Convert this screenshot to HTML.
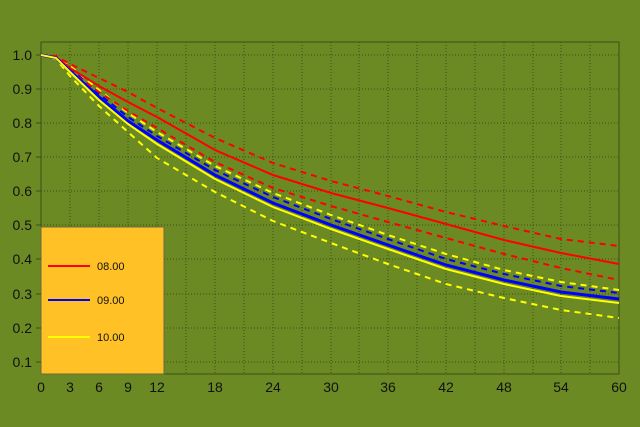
<!DOCTYPE html><html><head><style>body{margin:0;background:#6b8a23}svg{display:block}text{font-family:"Liberation Sans",sans-serif;fill:#111}</style></head><body>
<svg width="640" height="427" xmlns="http://www.w3.org/2000/svg">
<rect width="640" height="427" fill="#6b8a23"/>
<g stroke="#3f4f18" stroke-width="1" stroke-dasharray="1,2">
<line x1="41" x2="619" y1="55" y2="55"/><line x1="41" x2="619" y1="89" y2="89"/><line x1="41" x2="619" y1="123" y2="123"/><line x1="41" x2="619" y1="157" y2="157"/><line x1="41" x2="619" y1="191" y2="191"/><line x1="41" x2="619" y1="225" y2="225"/><line x1="41" x2="619" y1="259" y2="259"/><line x1="41" x2="619" y1="294" y2="294"/><line x1="41" x2="619" y1="328" y2="328"/><line x1="41" x2="619" y1="362" y2="362"/>
<line y1="42" y2="374" x1="70" x2="70"/><line y1="42" y2="374" x1="99" x2="99"/><line y1="42" y2="374" x1="128" x2="128"/><line y1="42" y2="374" x1="157" x2="157"/><line y1="42" y2="374" x1="186" x2="186"/><line y1="42" y2="374" x1="215" x2="215"/><line y1="42" y2="374" x1="244" x2="244"/><line y1="42" y2="374" x1="273" x2="273"/><line y1="42" y2="374" x1="302" x2="302"/><line y1="42" y2="374" x1="331" x2="331"/><line y1="42" y2="374" x1="359" x2="359"/><line y1="42" y2="374" x1="388" x2="388"/><line y1="42" y2="374" x1="417" x2="417"/><line y1="42" y2="374" x1="446" x2="446"/><line y1="42" y2="374" x1="475" x2="475"/><line y1="42" y2="374" x1="504" x2="504"/><line y1="42" y2="374" x1="533" x2="533"/><line y1="42" y2="374" x1="561" x2="561"/><line y1="42" y2="374" x1="590" x2="590"/>
</g>
<rect x="41" y="42" width="578" height="332" fill="none" stroke="#3f4f18"/>
<g fill="none" stroke-width="2">
<polyline stroke="#ffff00" stroke-dasharray="6,5" points="41,55 56,57 70,66 99,90 128,113 157,132 215,166 273,193 331,215 388,235 446,254 504,270 561,282 619,290"/>
<polyline stroke="#ffff00" stroke-dasharray="6,5" points="41,55 56,59 70,76 99,106 128,132 157,158 215,192 273,221 331,243 388,264 446,284 504,298 561,310 619,318"/>
<polyline stroke="#0000ff" stroke-dasharray="6,5" points="41,55 56,57 70,68 99,94 128,117 157,136 215,170 273,197 331,219 388,239 446,259 504,274 561,286 619,293"/>
<polyline stroke="#ff0000" stroke-dasharray="6,5" points="41,55 56,56 70,64 99,78 128,92 157,108 215,138 273,163 331,181 388,196 446,212 504,226 561,239 619,246"/>
<polyline stroke="#ff0000" stroke-dasharray="6,5" points="41,55 56,58 70,71 99,92 128,111 157,128 215,162 273,188 331,206 388,222 446,238 504,254 561,268 619,280"/>
<polyline stroke="#ff0000" points="41,55 56,57 70,68 99,86 128,102 157,117 215,150 273,175 331,193 388,208 446,224 504,240 561,253 619,264"/>
<polyline stroke="#0000ff" stroke-width="3" points="41,55 56,58 70,71 99,97 128,121 157,140 215,175 273,203 331,225 388,245 446,265 504,280 561,292 619,299"/>
<polyline stroke="#ffff00" points="41,55 56,58 70,72 99,100 128,124 157,144 215,179 273,207 331,229 388,249 446,269 504,284 561,296 619,303"/>
</g>
<rect x="41" y="227" width="123" height="147" fill="#ffc125" stroke="#6a6a40"/>
<line x1="48" x2="90" y1="266" y2="266" stroke="#ff0000" stroke-width="2"/>
<line x1="48" x2="90" y1="300" y2="300" stroke="#0000ff" stroke-width="2"/>
<line x1="48" x2="90" y1="337" y2="337" stroke="#ffff00" stroke-width="2"/>
<g font-size="11"><text x="97" y="270">08.00</text><text x="97" y="304">09.00</text><text x="97" y="341">10.00</text></g>
<g font-size="14" text-anchor="end"><text x="32" y="60">1.0</text><text x="32" y="94">0.9</text><text x="32" y="128">0.8</text><text x="32" y="162">0.7</text><text x="32" y="196">0.6</text><text x="32" y="230">0.5</text><text x="32" y="264">0.4</text><text x="32" y="299">0.3</text><text x="32" y="333">0.2</text><text x="32" y="367">0.1</text></g>
<g stroke="#3f4f18"><line x1="36" x2="41" y1="55" y2="55"/><line x1="36" x2="41" y1="89" y2="89"/><line x1="36" x2="41" y1="123" y2="123"/><line x1="36" x2="41" y1="157" y2="157"/><line x1="36" x2="41" y1="191" y2="191"/><line x1="36" x2="41" y1="225" y2="225"/><line x1="36" x2="41" y1="259" y2="259"/><line x1="36" x2="41" y1="294" y2="294"/><line x1="36" x2="41" y1="328" y2="328"/><line x1="36" x2="41" y1="362" y2="362"/></g>
<g font-size="14" text-anchor="middle"><text x="41" y="392">0</text><text x="70" y="392">3</text><text x="99" y="392">6</text><text x="128" y="392">9</text><text x="157" y="392">12</text><text x="215" y="392">18</text><text x="273" y="392">24</text><text x="331" y="392">30</text><text x="388" y="392">36</text><text x="446" y="392">42</text><text x="504" y="392">48</text><text x="561" y="392">54</text><text x="619" y="392">60</text></g>
</svg></body></html>
